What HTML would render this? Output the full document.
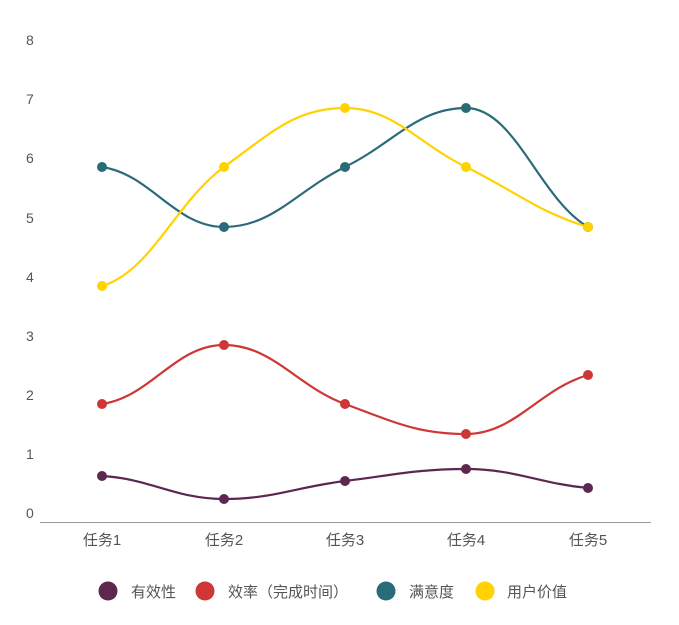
<!DOCTYPE html>
<html><head><meta charset="utf-8"><style>
body{margin:0;background:#fff;width:679px;height:620px;overflow:hidden}
svg text{font-family:"Liberation Sans","Noto Sans CJK SC",sans-serif}
</style></head><body>
<svg id="s" width="679" height="620" xmlns="http://www.w3.org/2000/svg">
<g font-size="14" fill="#555">
<text x="26" y="518">0</text><text x="26" y="459">1</text><text x="26" y="400">2</text><text x="26" y="341">3</text><text x="26" y="282">4</text><text x="26" y="223">5</text><text x="26" y="163">6</text><text x="26" y="104">7</text><text x="26" y="45">8</text>
</g>
<line x1="40" y1="522.5" x2="651" y2="522.5" stroke="#999" stroke-width="1"/>
<g font-size="15" fill="#555" text-anchor="middle">
<text x="102" y="545">任务1</text><text x="224" y="545">任务2</text><text x="345" y="545">任务3</text><text x="466" y="545">任务4</text><text x="588" y="545">任务5</text>
</g>
<g id="series"></g>
<g font-size="15" fill="#555">
<circle cx="108" cy="591" r="9.5" fill="#5e2750"/><text x="131" y="597">有效性</text>
<circle cx="205" cy="591" r="9.5" fill="#cf3636"/><text x="228" y="597">效率（完成时间）</text>
<circle cx="386" cy="591" r="9.5" fill="#2a6b7a"/><text x="409" y="597">满意度</text>
<circle cx="485" cy="591" r="9.5" fill="#ffd200"/><text x="507" y="597">用户价值</text>
</g>
</svg>
<script>
var xs=[102,224,345,466,588];
var S=[["#5e2750",[476,499,481,469,488]],["#cf3636",[404,345,404,434,375]],["#2a6b7a",[167,227,167,108,227]],["#ffd200",[286,167,108,167,227]]];
var g=document.getElementById('series'),h='';
S.forEach(function(s){var c=s[0],y=s[1],d='M'+xs[0]+','+y[0];
function slope(i){ if(i==0) return 0.3*(y[1]-y[0])/(xs[1]-xs[0]); if(i==4) return 0.6*(y[4]-y[3])/(xs[4]-xs[3]); var a=y[i]-y[i-1],b=y[i+1]-y[i]; if(a*b<=0) return 0; return (y[i+1]-y[i-1])/(xs[i+1]-xs[i-1]);}
for(var i=0;i<4;i++){var dx=(xs[i+1]-xs[i])*0.4;d+=' C'+(xs[i]+dx)+','+(y[i]+slope(i)*dx)+' '+(xs[i+1]-dx)+','+(y[i+1]-slope(i+1)*dx)+' '+xs[i+1]+','+y[i+1];}
h+='<path d="'+d+'" fill="none" stroke="'+c+'" stroke-width="2.2"/>';
for(var i=0;i<5;i++)h+='<circle cx="'+xs[i]+'" cy="'+y[i]+'" r="5" fill="'+c+'"/>';});
g.innerHTML=h;
</script>
</body></html>
